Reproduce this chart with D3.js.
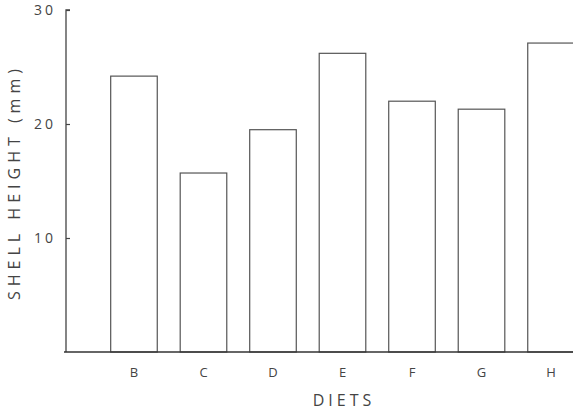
<!DOCTYPE html>
<html>
<head>
<meta charset="utf-8">
<script src="https://cdn.jsdelivr.net/npm/d3@7"></script>
<style>
  body { margin: 0; background: #fff; }
  text { font-family: "Open Sans", "DejaVu Sans", sans-serif; fill: #333; }
</style>
</head>
<body>
<div id="wrapper"></div>
<script>
const diets = ["B", "C", "D", "E", "F", "G", "H"]
const shellHeight = [24.2, 15.7, 19.5, 26.2, 22.0, 21.3, 27.1]
const yTicks = [10, 20, 30]

const dimensions = {
  width: 573,
  height: 410,
  margin: { top: 10, right: 0, bottom: 58, left: 66 }
}
dimensions.boundedHeight = dimensions.height - dimensions.margin.top - dimensions.margin.bottom

const svg = d3.select("#wrapper")
  .append("svg")
    .attr("width", dimensions.width)
    .attr("height", dimensions.height)

const bounds = svg.append("g")
    .attr("transform", `translate(${dimensions.margin.left},${dimensions.margin.top})`)

const yScale = d3.scaleLinear()
    .domain([0, 30])
    .range([dimensions.boundedHeight, 0])

// the last bar runs off the right edge in the original
const xScale = d3.scaleBand()
    .domain(diets)
    .range([0, 553])
    .paddingInner(0.33)
    .paddingOuter(0.643)

const data = diets.map((d, i) => ({ diet: d, value: shellHeight[i] }))

bounds.selectAll("rect.bar")
  .data(data)
  .join("rect")
    .attr("class", "bar")
    .attr("x", d => xScale(d.diet))
    .attr("width", xScale.bandwidth())
    .attr("y", d => yScale(d.value))
    .attr("height", d => dimensions.boundedHeight - yScale(d.value))
    .attr("fill", "none")
    .attr("stroke", "#555")
    .attr("stroke-width", 1.2)

// y axis: ticks point inward
const yAxis = bounds.append("g")
  .call(d3.axisRight(yScale).tickValues(yTicks).tickSize(4).tickFormat(d3.format("d")))
yAxis.select(".domain").attr("stroke", "#444").attr("stroke-width", 1.3)
  .attr("d", `M0,${dimensions.boundedHeight}V0h4`)
yAxis.selectAll(".tick line").attr("stroke", "#444").attr("stroke-width", 1.2)
yAxis.selectAll(".tick text")
    .attr("x", -10)
    .attr("text-anchor", "end")
    .style("font-size", "14px")
    .style("letter-spacing", "3px")
    .style("fill", "#444")

// x axis baseline, labels only
const xAxis = bounds.append("g")
    .attr("transform", `translate(0,${dimensions.boundedHeight})`)
  .call(d3.axisBottom(xScale).tickSize(0).tickPadding(16))
xAxis.select(".domain").attr("stroke", "#333").attr("stroke-width", 1.6)
  .attr("d", `M-2,0H${dimensions.width}`)
xAxis.selectAll(".tick text")
    .style("font-size", "13px")
    .style("fill", "#444")

svg.append("text")
    .attr("x", 344)
    .attr("y", 406)
    .attr("text-anchor", "middle")
    .style("font-size", "16px")
    .style("letter-spacing", "4px")
    .style("fill", "#444")
    .text("DIETS")

svg.append("text")
    .attr("transform", "translate(20,182) rotate(-90)")
    .attr("text-anchor", "middle")
    .style("font-size", "16px")
    .style("letter-spacing", "5px")
    .style("fill", "#444")
    .text("SHELL HEIGHT (mm)")
</script>
</body>
</html>
